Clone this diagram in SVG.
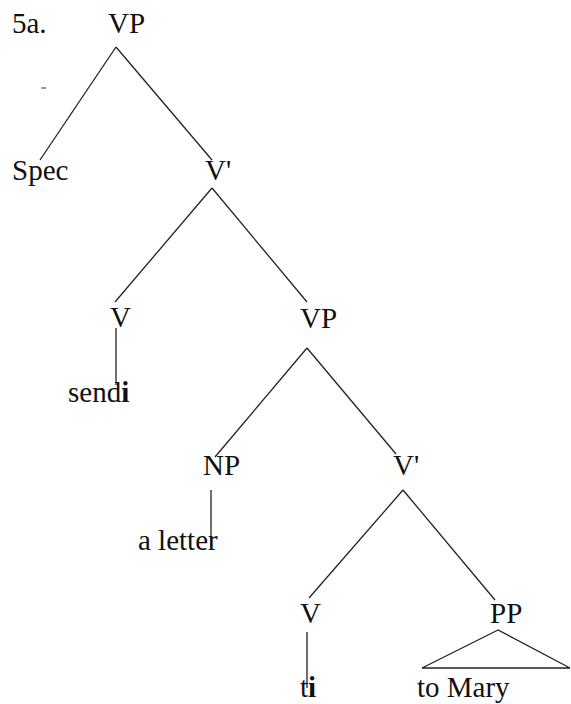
<svg xmlns="http://www.w3.org/2000/svg" width="571" height="704" viewBox="0 0 571 704">
<style>
text{font-family:"Liberation Serif","Times New Roman",serif;font-size:29px;fill:#111}
.e line,.e polygon{stroke:#222;stroke-width:1.3;fill:none}
.b{font-weight:bold}
</style>
<rect width="571" height="704" fill="#fff"/>
<g id="label"><text x="12" y="33">5a.</text><line x1="41" y1="88" x2="46" y2="88" stroke="#555" stroke-width="1.2"/></g>
<g class="e" id="connectors">
<line x1="116" y1="47" x2="40" y2="160"/>
<line x1="116" y1="47" x2="212" y2="160"/>
<line x1="212" y1="188" x2="115" y2="302"/>
<line x1="212" y1="188" x2="307" y2="302"/>
<line x1="116" y1="328" x2="116" y2="385"/>
<line x1="307" y1="348" x2="215" y2="457"/>
<line x1="307" y1="348" x2="396" y2="454"/>
<line x1="211" y1="490" x2="211" y2="550"/>
<line x1="403" y1="490" x2="309" y2="598"/>
<line x1="403" y1="490" x2="495" y2="600"/>
<line x1="307" y1="632" x2="307" y2="688"/>
<polygon points="498,630 422,668 570,668"/>
</g>
<g id="vp1"><text x="108" y="33">VP</text></g>
<g id="spec"><text x="12" y="180">Spec</text></g>
<g id="vbar1"><text x="205" y="180">V'</text></g>
<g id="v1"><text x="110" y="327">V</text></g>
<g id="sendi"><text x="68" y="402">send<tspan class="b">i</tspan></text></g>
<g id="vp2"><text x="300" y="328">VP</text></g>
<g id="np"><text x="203" y="475">NP</text></g>
<g id="aletter"><text x="138" y="550">a letter</text></g>
<g id="vbar2"><text x="393" y="475">V'</text></g>
<g id="v2"><text x="300" y="623">V</text></g>
<g id="ti"><text x="300" y="697">t<tspan class="b">i</tspan></text></g>
<g id="pp"><text x="490" y="623">PP</text></g>
<g id="tomary"><text x="417" y="697">to Mary</text></g>
</svg>
